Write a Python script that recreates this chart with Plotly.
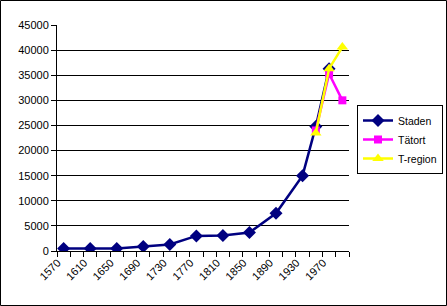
import plotly.graph_objects as go

# Data
staden_years = [1570, 1610, 1650, 1690, 1730, 1770, 1810, 1850, 1890, 1930, 1950, 1970]
staden_vals = [500, 500, 500, 900, 1300, 3000, 3100, 3700, 7500, 15000, 24800, 36300]
tatort_years = [1950, 1970, 1990]
tatort_vals = [24000, 35300, 30000]
tregion_years = [1950, 1970, 1990]
tregion_vals = [23500, 36300, 40600]
tick_years = [1570, 1610, 1650, 1690, 1730, 1770, 1810, 1850, 1890, 1930, 1970]

W, H = 447, 306
L, R, T, B = 57, 98, 25, 55
pw, ph = W - L - R, H - T - B

fig = go.Figure()
fig.add_trace(go.Scatter(x=staden_years, y=staden_vals, name="Staden", mode="lines+markers",
                         line=dict(color="#000080", width=2.5),
                         marker=dict(symbol="diamond", size=10, color="#000080")))
fig.add_trace(go.Scatter(x=tatort_years, y=tatort_vals, name="Tätort", mode="lines+markers",
                         line=dict(color="#FF00FF", width=2.5),
                         marker=dict(symbol="square", size=8, color="#FF00FF")))
fig.add_trace(go.Scatter(x=tregion_years, y=tregion_vals, name="T-region", mode="lines+markers",
                         line=dict(color="#FFFF00", width=2.5),
                         marker=dict(symbol="triangle-up", size=10, color="#FFFF00")))

fig.update_layout(
    width=W, height=H,
    margin=dict(l=L, r=R, t=T, b=B, autoexpand=False),
    paper_bgcolor="white", plot_bgcolor="white",
    font=dict(family="Liberation Sans, Arial, sans-serif", size=11, color="black"),
    xaxis=dict(range=[1560, 2000], tickmode="array", tickvals=tick_years,
               ticktext=[str(y) for y in tick_years], tickangle=-45, ticks="",
               showgrid=False, zeroline=False, showline=True, linecolor="black", linewidth=1,
               ticklabelshift=-6,
               minor=dict(ticks="outside", tick0=1560, dtick=20, ticklen=5,
                          tickcolor="black", showgrid=False),
               tickfont=dict(size=11), fixedrange=True),
    yaxis=dict(range=[0, 45000], tickmode="linear", tick0=0, dtick=5000,
               tickformat="d",
               ticks="outside", ticklen=5, tickcolor="black",
               showgrid=True, gridcolor="black", gridwidth=1,
               zeroline=False, showline=True, linecolor="black", linewidth=1,
               tickfont=dict(size=11), fixedrange=True),
    legend=dict(x=(357 - L) / pw, y=(T + ph - 105) / ph, xanchor="left", yanchor="top",
                bordercolor="black", borderwidth=1, bgcolor="white",
                font=dict(size=10.5), itemwidth=30, tracegroupgap=0),
    shapes=[dict(type="rect", xref="paper", yref="paper",
                 x0=(0.5 - L) / pw, x1=(W - 0.5 - L) / pw,
                 y0=(T + ph - (H - 0.5)) / ph, y1=(T + ph - 0.5) / ph,
                 line=dict(color="black", width=1), layer="below")],
    showlegend=True,
)

fig.write_html("out.html")
